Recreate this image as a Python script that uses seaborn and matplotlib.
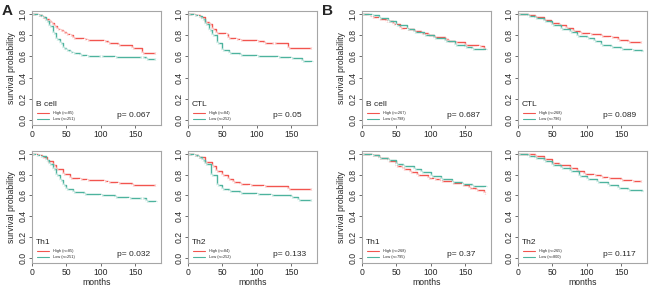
import matplotlib
matplotlib.use("Agg")
import matplotlib.pyplot as plt
import seaborn as sns
import pandas as pd

# ---- cohort A (months, survival probability) ----
a_bcell_high_t = [0, 8, 14, 19, 24, 28, 32, 36, 40, 45, 50, 55, 60, 75, 80, 105, 110, 125, 145, 160, 180]
a_bcell_high_s = [1.0, 0.99, 0.97, 0.95, 0.93, 0.91, 0.88, 0.86, 0.85, 0.83, 0.81, 0.80, 0.77, 0.76, 0.75, 0.74, 0.72, 0.71, 0.68, 0.63, 0.63]
a_bcell_low_t = [0, 8, 14, 20, 25, 30, 35, 40, 45, 50, 55, 60, 70, 80, 100, 120, 160, 165, 180]
a_bcell_low_s = [1.0, 0.99, 0.97, 0.93, 0.88, 0.82, 0.76, 0.72, 0.68, 0.66, 0.64, 0.63, 0.61, 0.60, 0.60, 0.59, 0.59, 0.57, 0.57]

a_ctl_high_t = [0, 10, 18, 25, 30, 35, 40, 55, 58, 70, 75, 100, 110, 125, 145, 180]
a_ctl_high_s = [1.0, 0.99, 0.97, 0.92, 0.90, 0.86, 0.82, 0.81, 0.77, 0.76, 0.75, 0.74, 0.72, 0.72, 0.68, 0.68]
a_ctl_low_t = [0, 8, 15, 20, 25, 30, 35, 42, 50, 60, 75, 100, 130, 150, 165, 180]
a_ctl_low_s = [1.0, 0.99, 0.98, 0.95, 0.90, 0.85, 0.80, 0.72, 0.66, 0.63, 0.61, 0.60, 0.59, 0.58, 0.56, 0.55]

a_th1_high_t = [0, 8, 15, 22, 30, 35, 45, 55, 70, 80, 105, 110, 125, 145, 180]
a_th1_high_s = [1.0, 0.99, 0.97, 0.93, 0.89, 0.85, 0.81, 0.77, 0.76, 0.75, 0.74, 0.73, 0.72, 0.70, 0.70]
a_th1_low_t = [0, 6, 12, 20, 25, 30, 35, 40, 45, 50, 60, 75, 100, 120, 140, 160, 165, 180]
a_th1_low_s = [1.0, 0.99, 0.98, 0.94, 0.90, 0.85, 0.80, 0.75, 0.70, 0.66, 0.63, 0.61, 0.60, 0.59, 0.58, 0.58, 0.55, 0.54]

a_th2_high_t = [0, 8, 15, 25, 35, 40, 50, 58, 65, 75, 90, 110, 145, 180]
a_th2_high_s = [1.0, 0.99, 0.97, 0.92, 0.88, 0.83, 0.80, 0.76, 0.73, 0.71, 0.70, 0.69, 0.66, 0.66]
a_th2_low_t = [0, 8, 15, 20, 25, 33, 42, 50, 60, 75, 100, 120, 150, 160, 180]
a_th2_low_s = [1.0, 0.99, 0.97, 0.94, 0.90, 0.80, 0.70, 0.66, 0.64, 0.62, 0.61, 0.60, 0.59, 0.56, 0.56]

# ---- cohort B ----
b_bcell_high_t = [0, 10, 15, 25, 35, 45, 55, 65, 75, 85, 95, 105, 120, 125, 135, 150, 170, 177, 180]
b_bcell_high_s = [1.0, 0.99, 0.97, 0.95, 0.93, 0.90, 0.87, 0.86, 0.84, 0.82, 0.80, 0.78, 0.76, 0.74, 0.73, 0.71, 0.70, 0.67, 0.67]
b_bcell_low_t = [0, 15, 25, 38, 50, 65, 75, 90, 105, 120, 135, 150, 160, 180]
b_bcell_low_s = [1.0, 0.99, 0.96, 0.93, 0.89, 0.86, 0.83, 0.80, 0.77, 0.74, 0.71, 0.69, 0.67, 0.66]

b_ctl_high_t = [0, 15, 25, 38, 48, 60, 70, 80, 90, 105, 120, 135, 145, 160, 180]
b_ctl_high_s = [1.0, 0.99, 0.97, 0.94, 0.91, 0.89, 0.87, 0.84, 0.82, 0.81, 0.79, 0.78, 0.75, 0.73, 0.73]
b_ctl_low_t = [0, 15, 25, 38, 50, 62, 75, 85, 100, 110, 120, 135, 150, 165, 180]
b_ctl_low_s = [1.0, 0.98, 0.96, 0.93, 0.89, 0.86, 0.83, 0.79, 0.77, 0.74, 0.71, 0.69, 0.67, 0.66, 0.64]

b_th1_high_t = [0, 15, 25, 38, 50, 60, 70, 80, 95, 105, 115, 130, 145, 155, 165, 177, 180]
b_th1_high_s = [1.0, 0.99, 0.96, 0.93, 0.88, 0.85, 0.82, 0.80, 0.77, 0.76, 0.74, 0.72, 0.70, 0.67, 0.65, 0.62, 0.62]
b_th1_low_t = [0, 15, 25, 38, 50, 60, 75, 85, 100, 115, 130, 145, 160, 180]
b_th1_low_s = [1.0, 0.99, 0.96, 0.94, 0.90, 0.88, 0.85, 0.82, 0.79, 0.76, 0.73, 0.71, 0.69, 0.68]

b_th2_high_t = [0, 15, 25, 38, 50, 60, 75, 85, 95, 110, 120, 130, 150, 165, 180]
b_th2_high_s = [1.0, 1.0, 0.98, 0.95, 0.91, 0.89, 0.86, 0.83, 0.81, 0.80, 0.78, 0.77, 0.75, 0.74, 0.74]
b_th2_low_t = [0, 15, 25, 38, 50, 62, 75, 88, 100, 115, 130, 145, 160, 180]
b_th2_low_s = [1.0, 0.98, 0.96, 0.93, 0.89, 0.86, 0.83, 0.79, 0.76, 0.73, 0.70, 0.67, 0.65, 0.63]

cell_names = ["B cell", "CTL", "Th1", "Th2"]
a_high_n = [85, 84, 85, 84]
a_low_n = [251, 252, 251, 252]
b_high_n = [267, 268, 268, 265]
b_low_n = [798, 796, 795, 800]
a_pvals = ["0.067", "0.05", "0.032", "0.133"]
b_pvals = ["0.687", "0.089", "0.37", "0.117"]
x_ticks = [0, 50, 100, 150]
y_ticks = [0.0, 0.2, 0.4, 0.6, 0.8, 1.0]

a_curves = [(a_bcell_high_t, a_bcell_high_s, a_bcell_low_t, a_bcell_low_s),
            (a_ctl_high_t, a_ctl_high_s, a_ctl_low_t, a_ctl_low_s),
            (a_th1_high_t, a_th1_high_s, a_th1_low_t, a_th1_low_s),
            (a_th2_high_t, a_th2_high_s, a_th2_low_t, a_th2_low_s)]
b_curves = [(b_bcell_high_t, b_bcell_high_s, b_bcell_low_t, b_bcell_low_s),
            (b_ctl_high_t, b_ctl_high_s, b_ctl_low_t, b_ctl_low_s),
            (b_th1_high_t, b_th1_high_s, b_th1_low_t, b_th1_low_s),
            (b_th2_high_t, b_th2_high_s, b_th2_low_t, b_th2_low_s)]

RED = "#F2554F"
TEAL = "#4DB39E"
GRAY = "#a6a6a6"

sns.set_style("white")
plt.rcParams['font.family'] = ['Liberation Sans', 'DejaVu Sans']

fig = plt.figure(figsize=(6.5, 2.88), dpi=100)

# panel grid: left edges (px) and top/bottom rows
lefts = [32, 188, 362, 518]
w = 129 / 650
rows = [(1 - 125 / 288, 114 / 288), (1 - 263 / 288, 112 / 288)]


def km_panel(ax, curve, name, nh, nl, pval, left_col, bottom_row):
    ht, hs, lt, ls = curve
    df = pd.concat([
        pd.DataFrame({"months": ht, "surv": hs, "grp": "High (n=%d)" % nh}),
        pd.DataFrame({"months": lt, "surv": ls, "grp": "Low (n=%d)" % nl}),
    ])
    sns.lineplot(data=df, x="months", y="surv", hue="grp", ax=ax,
                 palette=[RED, TEAL], drawstyle="steps-post", lw=1.0,
                 marker="+", markersize=2.5, mew=0.5, legend=False,
                 estimator=None, sort=False)
    ax.set_xlim(0, 187)
    ax.set_ylim(-0.045, 1.025)
    ax.set_xticks(x_ticks)
    ax.set_yticks(y_ticks)
    ax.set_yticklabels(["%.1f" % v for v in y_ticks], rotation=90, va="center")
    ax.tick_params(axis="both", direction="out", length=2.5, width=0.6,
                   color="#555555", labelsize=6.2, pad=1, bottom=True, left=True)
    for sp in ax.spines.values():
        sp.set_color(GRAY)
        sp.set_linewidth(0.8)
    ax.set_xlabel("months" if bottom_row else "", fontsize=6.2, labelpad=0.5)
    ax.set_ylabel("survival probability" if left_col else "", fontsize=6.2, labelpad=1.5)
    ax.text(0.03, 0.17, name, transform=ax.transAxes, fontsize=6)
    ax.plot([0.04, 0.13], [0.105, 0.105], transform=ax.transAxes, color=RED, lw=0.8)
    ax.plot([0.04, 0.13], [0.05, 0.05], transform=ax.transAxes, color=TEAL, lw=0.8)
    ax.text(0.16, 0.105, "High (n=%d)" % nh, transform=ax.transAxes, fontsize=2.8, va="center")
    ax.text(0.16, 0.05, "Low (n=%d)" % nl, transform=ax.transAxes, fontsize=2.8, va="center")
    ax.text(0.66, 0.08, "p= " + pval, transform=ax.transAxes, fontsize=6, va="center")


for i in range(4):
    r, c = divmod(i, 2)
    bottom, h = rows[r]
    ax = fig.add_axes([lefts[c] / 650, bottom, w, h])
    km_panel(ax, a_curves[i], cell_names[i], a_high_n[i], a_low_n[i], a_pvals[i], c == 0, r == 1)
    ax = fig.add_axes([lefts[c + 2] / 650, bottom, w, h])
    km_panel(ax, b_curves[i], cell_names[i], b_high_n[i], b_low_n[i], b_pvals[i], c == 0, r == 1)

fig.text(2 / 650, 1 - 11 / 288, "A", fontsize=11, fontweight="bold", va="center")
fig.text(322 / 650, 1 - 11 / 288, "B", fontsize=11, fontweight="bold", va="center")

fig.savefig("out.png", dpi=100)
